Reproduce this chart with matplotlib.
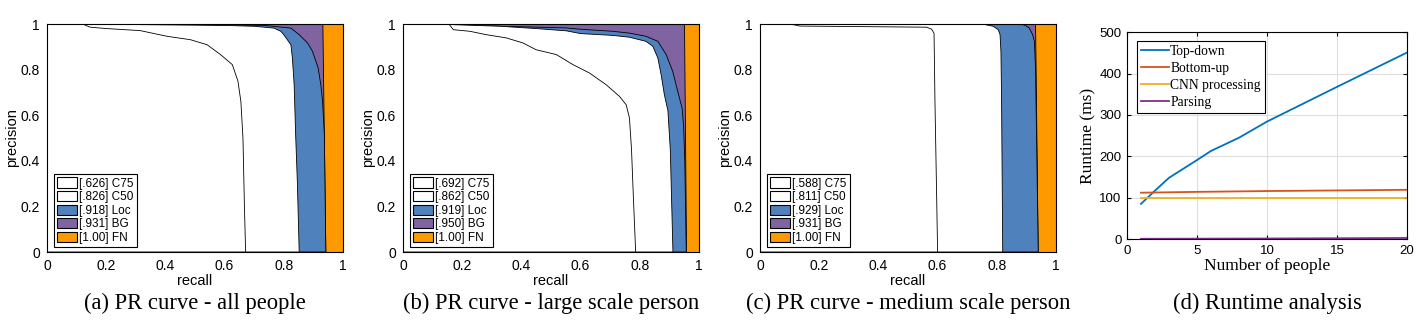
import numpy as np
import matplotlib
matplotlib.use("Agg")
import matplotlib.pyplot as plt
from matplotlib.patches import Patch

SANS = "Liberation Sans"
SERIF = "Liberation Serif"

# ---------------- PR curves (recall, precision) ----------------
# (a) all people
a_c75_recall = [0, 0.12, 0.146, 0.2, 0.315, 0.406, 0.485, 0.541, 0.586, 0.626, 0.645, 0.655, 0.662, 0.667, 0.671]
a_c75_precision = [1, 1, 0.986, 0.98, 0.971, 0.946, 0.931, 0.909, 0.866, 0.822, 0.75, 0.66, 0.5, 0.2, 0]
a_c50_recall = [0, 0.1, 0.5, 0.62, 0.7, 0.767, 0.79, 0.80, 0.824, 0.829, 0.835, 0.84, 0.846, 0.852]
a_c50_precision = [1, 1, 0.995, 0.993, 0.99, 0.982, 0.968, 0.953, 0.909, 0.851, 0.734, 0.515, 0.3, 0]
a_loc_recall = [0, 0.3, 0.6, 0.733, 0.824, 0.852, 0.88, 0.897, 0.916, 0.925, 0.931, 0.937, 0.942]
a_loc_precision = [1, 0.998, 0.996, 0.994, 0.982, 0.953, 0.917, 0.88, 0.807, 0.734, 0.66, 0.515, 0]
a_bg_recall = [0, 0.932, 0.942]
a_bg_precision = [1, 1, 0]
a_ap = [".626", ".826", ".918", ".931", "1.00"]

# (b) large scale person
b_c75_recall = [0, 0.155, 0.17, 0.226, 0.282, 0.349, 0.405, 0.45, 0.518, 0.574, 0.63, 0.686, 0.731, 0.754, 0.765, 0.772, 0.778, 0.786]
b_c75_precision = [1, 1, 0.975, 0.968, 0.953, 0.939, 0.917, 0.887, 0.866, 0.822, 0.785, 0.734, 0.683, 0.646, 0.588, 0.45, 0.25, 0]
b_c50_recall = [0, 0.15, 0.33, 0.45, 0.552, 0.6, 0.709, 0.765, 0.821, 0.844, 0.861, 0.872, 0.883, 0.895, 0.903, 0.912]
b_c50_precision = [1, 0.998, 0.99, 0.98, 0.97, 0.958, 0.95, 0.942, 0.924, 0.902, 0.851, 0.778, 0.69, 0.62, 0.45, 0]
b_loc_recall = [0, 0.15, 0.33, 0.55, 0.6, 0.709, 0.765, 0.821, 0.861, 0.889, 0.911, 0.928, 0.943, 0.948, 0.952, 0.957]
b_loc_precision = [1, 0.998, 0.99, 0.983, 0.977, 0.968, 0.96, 0.946, 0.924, 0.866, 0.793, 0.705, 0.63, 0.55, 0.4, 0]
b_bg_recall = [0, 0.951, 0.958]
b_bg_precision = [1, 1, 0]
b_ap = [".692", ".862", ".919", ".950", "1.00"]

# (c) medium scale person
c_c75_recall = [0, 0.101, 0.135, 0.563, 0.58, 0.588, 0.591, 0.597, 0.6]
c_c75_precision = [1, 1, 0.991, 0.986, 0.977, 0.959, 0.667, 0.227, 0]
c_c50_recall = [0, 0.75, 0.788, 0.805, 0.811, 0.814, 0.816, 0.82]
c_c50_precision = [1, 1, 0.99, 0.975, 0.953, 0.88, 0.69, 0]
c_loc_recall = [0, 0.87, 0.895, 0.91, 0.921, 0.927, 0.931, 0.94]
c_loc_precision = [1, 1, 0.995, 0.982, 0.953, 0.924, 0.8, 0]
c_bg_recall = [0, 0.931, 0.94]
c_bg_precision = [1, 1, 0]
c_ap = [".588", ".811", ".929", ".931", "1.00"]

fn_recall = [0, 1]
fn_precision = [1, 1]

error_types = ["C75", "C50", "Loc", "BG", "FN"]
error_colors = ["white", "white", "#4F81BD", "#8064A2", "#FF9900"]

# ---------------- Runtime analysis ----------------
people_td = [1, 2, 3, 5, 6, 8, 10, 15, 20]
runtime_topdown = [85, 117, 148, 191, 213, 245, 284, 368, 451]
people = [1, 5, 10, 15, 20]
runtime_bottomup = [112, 114, 116, 117.5, 119]
runtime_cnn = [100, 100, 100, 100, 100]
runtime_parsing = [0.5, 0.8, 1.2, 1.8, 2.5]

captions = ["(a) PR curve - all people", "(b) PR curve - large scale person",
            "(c) PR curve - medium scale person", "(d) Runtime analysis"]

W, H = 1426, 323
fig = plt.figure(figsize=(W / 100, H / 100), dpi=100)


def px_axes(x0, x1, ytop, ybot):
    return fig.add_axes([x0 / W, (H - ybot) / H, (x1 - x0) / W, (ybot - ytop) / H])


def pr_panel(ax, curves, ap):
    # draw from the largest area (FN) down to C75 so smaller areas sit on top
    for (r, p), color in reversed(list(zip(curves, error_colors))):
        r = list(r)
        p = list(p)
        xs = [0] + r + [r[-1], 0]
        ys = [0] + p + [0, 0]
        ax.fill(xs, ys, facecolor=color, edgecolor="black", linewidth=0.6, zorder=2)
    ax.set_xlim(0, 1)
    ax.set_ylim(0, 1)
    ax.set_xticks([0, 0.2, 0.4, 0.6, 0.8, 1])
    ax.set_xticklabels(["0", "0.2", "0.4", "0.6", "0.8", "1"])
    ax.set_yticks([0, 0.2, 0.4, 0.6, 0.8, 1])
    ax.set_yticklabels(["0", "0.2", "0.4", "0.6", "0.8", "1"])
    ax.tick_params(length=0, labelsize=10, pad=5)
    for lab in ax.get_xticklabels() + ax.get_yticklabels():
        lab.set_family(SANS)
    ax.set_xlabel("recall", family=SANS, fontsize=10.5, labelpad=1)
    ax.set_ylabel("precision", family=SANS, fontsize=10.5, labelpad=1)
    for s in ax.spines.values():
        s.set_linewidth(0.8)
        s.set_zorder(5)
    handles = [Patch(facecolor=c, edgecolor="black", linewidth=0.8) for c in error_colors]
    labels = [f"[{v}] {t}" for v, t in zip(ap, error_types)]
    leg = ax.legend(handles, labels, loc="lower left", bbox_to_anchor=(0.025, 0.023),
                    borderaxespad=0, fancybox=False, framealpha=1, edgecolor="black",
                    prop={"family": SANS, "size": 8.5}, handlelength=1.7,
                    handleheight=0.95, handletextpad=0.15, labelspacing=0.12,
                    borderpad=0.25)
    leg.get_frame().set_linewidth(0.8)
    leg.set_zorder(10)


panels = [
    (47, 343, [(a_c75_recall, a_c75_precision), (a_c50_recall, a_c50_precision),
               (a_loc_recall, a_loc_precision), (a_bg_recall, a_bg_precision),
               (fn_recall, fn_precision)], a_ap),
    (403, 699, [(b_c75_recall, b_c75_precision), (b_c50_recall, b_c50_precision),
                (b_loc_recall, b_loc_precision), (b_bg_recall, b_bg_precision),
                (fn_recall, fn_precision)], b_ap),
    (760, 1056, [(c_c75_recall, c_c75_precision), (c_c50_recall, c_c50_precision),
                 (c_loc_recall, c_loc_precision), (c_bg_recall, c_bg_precision),
                 (fn_recall, fn_precision)], c_ap),
]

for i, (x0, x1, curves, ap) in enumerate(panels):
    ax = px_axes(x0, x1, 24, 252)
    pr_panel(ax, curves, ap)
    fig.text((x0 + x1) / 2 / W, (H - 303) / H, captions[i], family=SERIF,
             fontsize=16.3, ha="center", va="center")

# runtime panel
axd = px_axes(1127, 1407, 32.3, 239)
axd.plot(people_td, runtime_topdown, color="#0072BD", lw=1.3, label="Top-down")
axd.plot(people, runtime_bottomup, color="#D95319", lw=1.3, label="Bottom-up")
axd.plot(people, runtime_cnn, color="#EDB120", lw=1.3, label="CNN processing")
axd.plot(people, runtime_parsing, color="#7E2F8E", lw=1.3, label="Parsing")
axd.set_xlim(0, 20)
axd.set_ylim(0, 500)
axd.set_xticks([0, 5, 10, 15, 20])
axd.set_yticks([0, 100, 200, 300, 400, 500])
axd.grid(True, color="#DFDFDF", linewidth=0.8)
axd.set_axisbelow(True)
axd.tick_params(direction="in", length=3, labelsize=9.5, top=True, right=True, pad=4)
for lab in axd.get_xticklabels() + axd.get_yticklabels():
    lab.set_family(SANS)
for s in axd.spines.values():
    s.set_linewidth(0.8)
axd.set_xlabel("Number of people", family=SERIF, fontsize=12.5, labelpad=1)
axd.set_ylabel("Runtime (ms)", family=SERIF, fontsize=12.5, labelpad=2)
legd = axd.legend(loc="upper left", bbox_to_anchor=(0.035, 0.959), borderaxespad=0,
                  fancybox=False, framealpha=1, edgecolor="black",
                  prop={"family": SERIF, "size": 9.8}, handlelength=2.1,
                  handletextpad=0.05, labelspacing=0.3, borderpad=0.3)
legd.get_frame().set_linewidth(0.8)
fig.text((1127 + 1407) / 2 / W, (H - 303) / H, captions[3], family=SERIF,
         fontsize=16.3, ha="center", va="center")

fig.savefig("out.png", dpi=100)
